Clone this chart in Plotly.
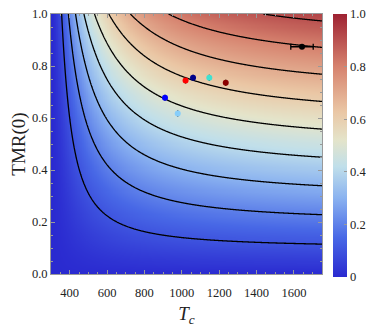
import numpy as np
import plotly.graph_objects as go

sample_tc = [910, 978, 1020, 1060, 1147, 1235, 1643]
sample_tmr0 = [0.678, 0.617, 0.744, 0.755, 0.755, 0.736, 0.874]
sample_colors = ["#0000ff", "#87cefa", "#ff0000", "#00008b", "#40e0d0", "#8b0000", "#000000"]
sample_tc_err = [0, 0, 0, 0, 0, 0, 60]

contour_levels = [0.1, 0.2, 0.3, 0.4, 0.5, 0.6, 0.7, 0.8, 0.9]
x_ticks = [400, 600, 800, 1000, 1200, 1400, 1600]
y_ticks = [0.0, 0.2, 0.4, 0.6, 0.8, 1.0]
cb_ticks = [0, 0.2, 0.4, 0.6, 0.8, 1.0]
cb_labels = ["0", "0.2", "0.4", "0.6", "0.8", "1.0"]

# model surface: TMR at room temperature (Julliere + Bloch law)
T_room = 300.0
tc = np.linspace(300, 1750, 400)
tmr0 = np.linspace(0, 1, 250)
TC, Y = np.meshgrid(tc, tmr0)
P0sq = Y / (2 - Y)
m = np.clip(1 - (T_room / TC) ** 1.5, 0, None)
Psq = P0sq * m ** 2
Z = 2 * Psq / (1 + Psq)

cscale = [
    [0.0, "#2a2ad0"],
    [0.15, "#4868e6"],
    [0.3, "#8ab2f0"],
    [0.42, "#c0dfea"],
    [0.52, "#e4e4ca"],
    [0.63, "#eac6a4"],
    [0.8, "#d6826e"],
    [1.0, "#9e2232"],
]

font = "Liberation Serif"

fig = go.Figure()
fig.add_trace(go.Heatmap(
    x=tc, y=tmr0, z=Z, zmin=0, zmax=1, colorscale=cscale, zsmooth="best",
    colorbar=dict(
        x=1.04, xanchor="left", xpad=0, ypad=0, thickness=14, len=1.0115, lenmode="fraction",
        y=-0.0115, yanchor="bottom", tickvals=cb_ticks, ticktext=cb_labels,
        ticks="inside", ticklen=3, tickcolor="#999", outlinewidth=0,
        ticklabeloverflow="allow",
        tickfont=dict(family=font, size=12.5, color="#222"),
    ),
    hoverinfo="skip",
))
fig.add_trace(go.Contour(
    x=tc, y=tmr0, z=Z, showscale=False,
    contours=dict(start=contour_levels[0], end=contour_levels[-1], size=0.1, coloring="lines"),
    colorscale=[[0, "black"], [1, "black"]],
    line=dict(width=1.3, color="black"),
    hoverinfo="skip",
))
fig.add_trace(go.Scatter(
    x=sample_tc, y=sample_tmr0, mode="markers",
    marker=dict(color=sample_colors, size=6),
    error_x=dict(type="data", array=sample_tc_err, color="black", thickness=1.3, width=3),
    showlegend=False,
))

axis_common = dict(
    ticks="inside", ticklen=4, tickcolor="#999", linecolor="#999", linewidth=1,
    mirror="ticks", showline=True, showgrid=False, zeroline=False, automargin=False,
    ticklabeloverflow="allow",
    tickfont=dict(family=font, size=12.5, color="#222"),
)
fig.update_xaxes(
    range=[300, 1750], tickvals=x_ticks, ticklabelstandoff=7, **axis_common,
    minor=dict(ticks="inside", ticklen=2, tickcolor="#999", dtick=50),
    title=dict(text="<i>T</i><sub><i>c</i></sub>", font=dict(family=font, size=19, color="#222"), standoff=8),
)
fig.update_yaxes(
    range=[0, 1], tickvals=y_ticks, tickformat=".1f", **axis_common,
    minor=dict(ticks="inside", ticklen=2, tickcolor="#999", dtick=0.05),
    title=dict(text="TMR(0)", font=dict(family=font, size=19, color="#222"), standoff=8),
)
# page body adds an 8px offset, so the figure is drawn 8px smaller
fig.update_layout(
    width=366, height=319, margin=dict(l=43, r=52, t=6, b=53, autoexpand=False),
    plot_bgcolor="white", paper_bgcolor="white", showlegend=False,
)
fig.write_html("out.html")
